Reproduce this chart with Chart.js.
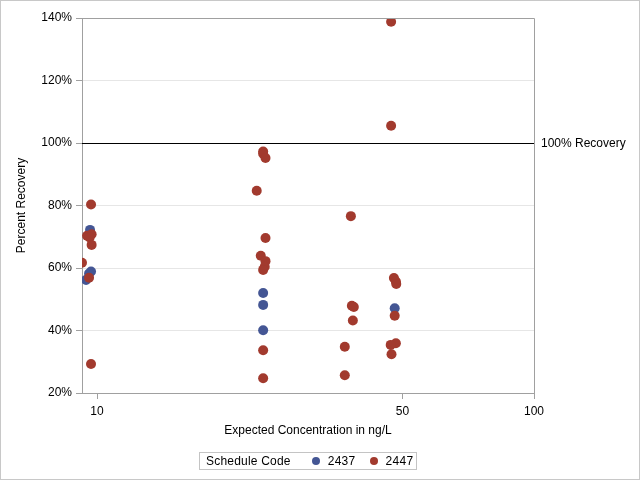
<!DOCTYPE html>
<html>
<head>
<meta charset="utf-8">
<script src="https://cdn.jsdelivr.net/npm/chart.js@4/dist/chart.umd.min.js"></script>
<style>
  html, body { margin: 0; padding: 0; background: #fff; }
  #wrap { position: relative; width: 640px; height: 480px; }
  canvas { position: absolute; left: 0; top: 0; }
  #legend {
    position: absolute; left: 199px; top: 452px; width: 216px; height: 16px;
    border: 1px solid #c4c4c4; box-sizing: content-box;
    font: 12px "Liberation Sans", Arial, sans-serif; color: #000;
    display: flex; align-items: center; white-space: nowrap;
  }
  #legend .dot { display: inline-block; width: 8px; height: 8px; border-radius: 50%; margin: 0 8px 0 0; }
</style>
</head>
<body>
<div id="wrap">
  <canvas id="c" width="640" height="480"></canvas>
  <div id="legend">
    <span style="margin-left:6px;letter-spacing:0.2px">Schedule Code</span>
    <span class="dot" style="background:#445694;margin-left:21px"></span><span style="letter-spacing:0.3px">2437</span>
    <span class="dot" style="background:#A23A2E;margin-left:14px"></span><span style="letter-spacing:0.3px">2447</span>
  </div>
</div>
<script>
// Series 2437
const conc2437 = [9.64, 9.69, 9.59, 9.44, 24.0, 24.0, 24.0, 48.0];
const rec2437  = [72.2, 58.9, 58.2, 56.2, 52.0, 48.2, 40.1, 47.1];
// Series 2447
const conc2447 = [9.69, 9.49, 9.72, 9.62, 9.72, 9.24, 9.59, 9.69,
                  24.0, 24.0, 24.3, 23.2, 24.3, 23.7, 24.3, 24.2, 24.0, 24.0, 24.0,
                  38.1, 38.3, 38.7, 38.5, 36.9, 36.9,
                  47.1, 47.1, 47.8, 48.3, 48.4, 48.0, 48.3, 47.0, 47.2];
const rec2447  = [80.3, 70.3, 70.8, 69.8, 67.4, 61.7, 56.9, 29.3,
                  97.3, 96.6, 95.2, 84.7, 69.6, 63.9, 62.2, 60.4, 59.4, 33.7, 24.7,
                  76.6, 47.9, 47.5, 43.2, 34.8, 25.7,
                  138.8, 105.5, 56.8, 55.7, 54.9, 44.7, 35.9, 35.4, 32.4];
const xTickValues = [10, 50, 100];
const yTickValues = [20, 40, 60, 80, 100, 120, 140];
const refValue = 100;
const refLabel = '100% Recovery';

Chart.defaults.font.family = '"Liberation Sans", Arial, sans-serif';
Chart.defaults.font.size = 12;
Chart.defaults.color = '#000';

const pts = (xs, ys) => xs.map((x, i) => ({ x: x, y: ys[i] }));

const framePlugin = {
  id: 'frame',
  afterDatasetsDraw(chart) {
    const { ctx, chartArea: a, scales } = chart;
    ctx.save();
    const y = Math.round(scales.y.getPixelForValue(refValue)) + 0.5;
    ctx.strokeStyle = '#000';
    ctx.lineWidth = 1;
    ctx.beginPath();
    ctx.moveTo(a.left, y);
    ctx.lineTo(a.right, y);
    ctx.stroke();
    ctx.strokeStyle = '#a0a0a0';
    ctx.beginPath();
    ctx.moveTo(a.left, Math.round(a.top) + 0.5);
    ctx.lineTo(Math.round(a.right) + 0.5, Math.round(a.top) + 0.5);
    ctx.lineTo(Math.round(a.right) + 0.5, a.bottom);
    ctx.stroke();
    ctx.fillStyle = '#000';
    ctx.font = '12px "Liberation Sans", Arial, sans-serif';
    ctx.textBaseline = 'middle';
    ctx.textAlign = 'left';
    ctx.fillText(refLabel, a.right + 7, y);
    ctx.strokeStyle = '#c8c8c8';
    ctx.strokeRect(0.5, 0.5, chart.width - 1, chart.height - 1);
    ctx.restore();
  }
};

new Chart(document.getElementById('c'), {
  type: 'scatter',
  data: {
    datasets: [
      { label: '2437', data: pts(conc2437, rec2437), backgroundColor: '#445694', borderColor: '#445694',
        pointRadius: 5, pointHoverRadius: 5, borderWidth: 0, order: 1 },
      { label: '2447', data: pts(conc2447, rec2447), backgroundColor: '#A23A2E', borderColor: '#A23A2E',
        pointRadius: 5, pointHoverRadius: 5, borderWidth: 0, order: 0 }
    ]
  },
  options: {
    responsive: false,
    animation: false,
    layout: { padding: { top: 18, right: 106, bottom: 0, left: 0 } },
    plugins: { legend: { display: false }, tooltip: { enabled: false } },
    scales: {
      x: {
        type: 'logarithmic',
        min: 9.24, max: 100,
        afterBuildTicks: s => { s.ticks = xTickValues.map(v => ({ value: v })); },
        afterFit: s => { s.height = 87; },
        ticks: { callback: v => String(v), padding: 5, maxRotation: 0, color: '#000' },
        grid: { drawOnChartArea: false, tickLength: 6, color: '#a0a0a0' },
        border: { color: '#a0a0a0' },
        title: { display: true, text: 'Expected Concentration in ng/L', padding: { top: 0, bottom: 42 }, color: '#000' }
      },
      y: {
        min: 20, max: 140,
        afterBuildTicks: s => { s.ticks = yTickValues.map(v => ({ value: v })); },
        afterFit: s => { s.width = 82; },
        ticks: { callback: v => v + '%', padding: 4, color: '#000' },
        grid: { color: '#e6e6e6', tickColor: '#a0a0a0', tickLength: 6 },
        border: { color: '#a0a0a0' },
        title: { display: true, text: 'Percent Recovery', padding: { top: 14, bottom: 0 }, color: '#000' }
      }
    }
  },
  plugins: [framePlugin]
});
</script>
</body>
</html>
